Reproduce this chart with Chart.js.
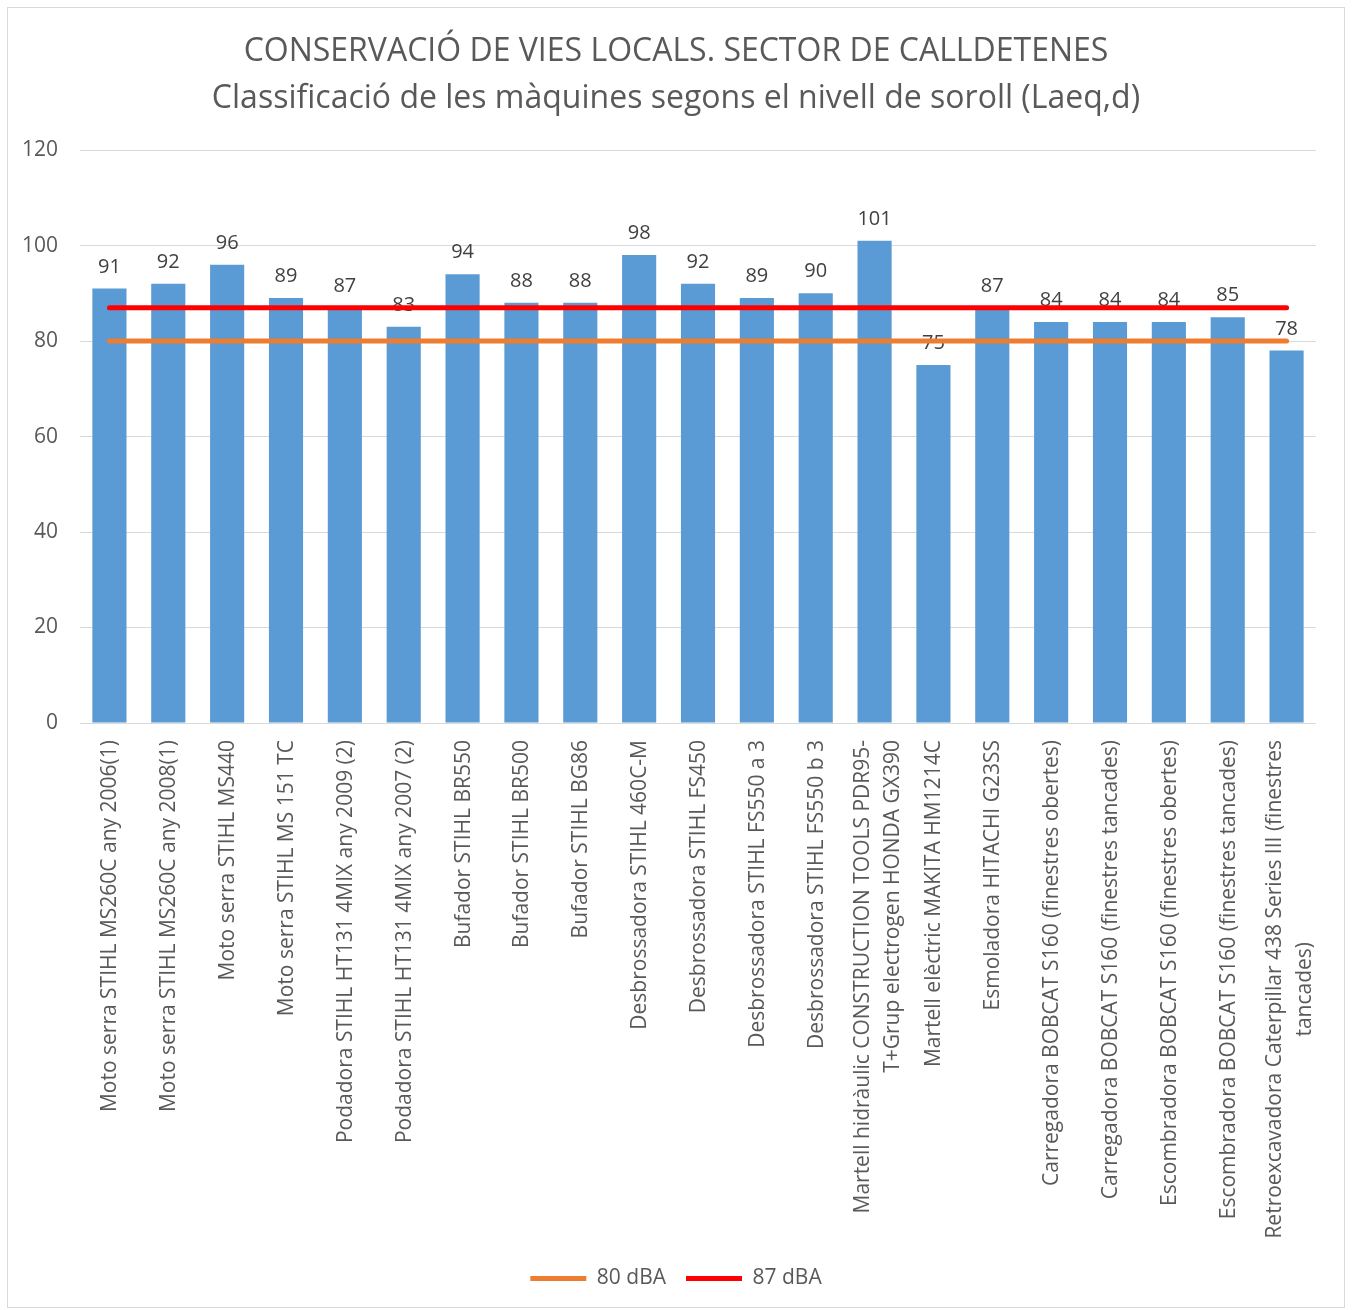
<!DOCTYPE html>
<html><head><meta charset="utf-8">
<script src="https://cdn.jsdelivr.net/npm/chart.js@4"></script>
<style>html,body{margin:0;padding:0;background:#fff}#wrap{width:1352px;height:1310px;position:relative}</style>
</head><body><div id="wrap"><canvas id="c" width="1352" height="1310"></canvas></div>
<script>
const titleLines = [
  "CONSERVACIÓ DE VIES LOCALS. SECTOR DE CALLDETENES",
  "Classificació de les màquines segons el nivell de soroll (Laeq,d)"
];
const categories = [
  "Moto serra STIHL MS260C any 2006(1)",
  "Moto serra STIHL MS260C any 2008(1)",
  "Moto serra STIHL MS440",
  "Moto serra STIHL MS 151 TC",
  "Podadora STIHL HT131 4MIX any 2009 (2)",
  "Podadora STIHL HT131 4MIX any 2007 (2)",
  "Bufador STIHL BR550",
  "Bufador STIHL BR500",
  "Bufador STIHL BG86",
  "Desbrossadora STIHL 460C-M",
  "Desbrossadora STIHL FS450",
  "Desbrossadora STIHL FS550 a 3",
  "Desbrossadora STIHL FS550 b 3",
  ["Martell hidràulic CONSTRUCTION TOOLS PDR95-", "T+Grup electrogen HONDA GX390"],
  "Martell elèctric MAKITA HM1214C",
  "Esmoladora HITACHI G23SS",
  "Carregadora BOBCAT S160 (finestres obertes)",
  "Carregadora BOBCAT S160 (finestres tancades)",
  "Escombradora BOBCAT S160 (finestres obertes)",
  "Escombradora BOBCAT S160 (finestres tancades)",
  ["Retroexcavadora Caterpillar 438 Series III (finestres", "tancades)"]
];
// per-category alignment of wrapped lines along the label ('start' = from the axis, 'center' = centred on first line)
const wrapAlign = ["start","start","start","start","start","start","start","start","start","start","start","start","start","start","start","start","start","start","start","start","center"];
const levels = [91, 92, 96, 89, 87, 83, 94, 88, 88, 98, 92, 89, 90, 101, 75, 87, 84, 84, 84, 85, 78];
const limit80 = [80,80,80,80,80,80,80,80,80,80,80,80,80,80,80,80,80,80,80,80,80];
const limit87 = [87,87,87,87,87,87,87,87,87,87,87,87,87,87,87,87,87,87,87,87,87];
const yTicks = [0, 20, 40, 60, 80, 100, 120];

const FONT = '"Open Sans", "Noto Sans", sans-serif';
const XFONT = '21px ' + FONT;
const XLINE = 30;
const XPAD = 17;

const frame = {
  id: 'frame',
  beforeDraw(chart) {
    const ctx = chart.ctx;
    ctx.save();
    ctx.fillStyle = '#ffffff';
    ctx.fillRect(0, 0, chart.width, chart.height);
    ctx.strokeStyle = '#d9d9d9';
    ctx.lineWidth = 1;
    ctx.strokeRect(7.5, 7.5, 1337, 1300);
    ctx.restore();
  }
};

const barLabels = {
  id: 'barLabels',
  afterDatasetDraw(chart, args) {
    if (args.index !== 0) return;
    const ctx = chart.ctx;
    ctx.save();
    ctx.font = '20px ' + FONT;
    ctx.fillStyle = '#404040';
    ctx.textAlign = 'center';
    ctx.textBaseline = 'alphabetic';
    args.meta.data.forEach((el, i) => {
      ctx.fillText(String(levels[i]), el.x, el.y - 16);
    });
    ctx.restore();
  }
};

const xLabels = {
  id: 'xLabels',
  afterDraw(chart) {
    const scale = chart.scales.x;
    const ctx = chart.ctx;
    ctx.save();
    ctx.font = XFONT;
    ctx.fillStyle = '#595959';
    ctx.textBaseline = 'middle';
    categories.forEach((lab, i) => {
      const lines = Array.isArray(lab) ? lab : [lab];
      const px = scale.getPixelForTick(i);
      const firstW = ctx.measureText(lines[0]).width;
      const shift = lines.length > 1 ? 3 : 1;
      lines.forEach((ln, j) => {
        const off = (j - (lines.length - 1) / 2) * XLINE + shift;
        ctx.save();
        ctx.translate(px + off, scale.top + XPAD);
        ctx.rotate(-Math.PI / 2);
        if (j > 0 && wrapAlign[i] === 'center') {
          ctx.textAlign = 'center';
          ctx.fillText(ln, -firstW / 2, 0);
        } else {
          ctx.textAlign = 'right';
          ctx.fillText(ln, 0, 0);
        }
        ctx.restore();
      });
    });
    ctx.restore();
  }
};

new Chart(document.getElementById('c'), {
  type: 'bar',
  data: {
    labels: categories,
    datasets: [
      {
        label: 'Laeq,d',
        data: levels,
        backgroundColor: '#5B9BD5',
        borderWidth: 0,
        barPercentage: 0.58,
        categoryPercentage: 1,
        order: 3
      },
      {
        type: 'line',
        label: '80 dBA',
        data: limit80,
        borderColor: '#ED7D31',
        backgroundColor: '#ED7D31',
        borderWidth: 5,
        borderCapStyle: 'round',
        pointRadius: 0,
        pointHoverRadius: 0,
        fill: false,
        order: 2
      },
      {
        type: 'line',
        label: '87 dBA',
        data: limit87,
        borderColor: '#FF0000',
        backgroundColor: '#FF0000',
        borderWidth: 5,
        borderCapStyle: 'round',
        pointRadius: 0,
        pointHoverRadius: 0,
        fill: false,
        order: 1
      }
    ]
  },
  options: {
    responsive: false,
    animation: false,
    devicePixelRatio: 1,
    layout: { padding: { top: 0, right: 0, bottom: 11, left: 0 } },
    plugins: {
      title: {
        display: true,
        text: titleLines,
        color: '#595959',
        font: { family: FONT, size: 32, weight: 'normal', lineHeight: 1.47 },
        padding: { top: 28, bottom: 28 }
      },
      legend: {
        position: 'bottom',
        labels: {
          color: '#595959',
          font: { family: FONT, size: 21 },
          boxWidth: 56,
          boxHeight: 5,
          padding: 20,
          filter: (item) => item.datasetIndex !== 0,
          generateLabels(chart) {
            return chart.data.datasets.map((ds, i) => ({
              text: ds.label,
              fillStyle: ds.borderColor || ds.backgroundColor,
              strokeStyle: ds.borderColor || ds.backgroundColor,
              lineWidth: 0,
              fontColor: '#595959',
              hidden: false,
              datasetIndex: i
            }));
          }
        }
      },
      tooltip: { enabled: false }
    },
    scales: {
      x: {
        grid: { display: false, drawTicks: false },
        border: { display: false },
        ticks: {
          autoSkip: false,
          minRotation: 90,
          maxRotation: 90,
          color: 'rgba(0,0,0,0)',
          font: { family: FONT, size: 21, lineHeight: 1.43 },
          padding: 16
        },
        afterFit(scale) { scale.height = 525; scale.paddingLeft = 0; scale.paddingRight = 36; }
      },
      y: {
        min: 0,
        max: 120,
        afterBuildTicks(scale) { scale.ticks = yTicks.map(v => ({ value: v })); },
        grid: { color: '#d9d9d9', lineWidth: 1, drawTicks: false },
        border: { display: false },
        ticks: {
          color: '#595959',
          font: { family: FONT, size: 21 },
          padding: 22
        },
        afterFit(scale) { scale.width = 80; }
      }
    }
  },
  plugins: [frame, barLabels, xLabels]
});
</script>
</body></html>
